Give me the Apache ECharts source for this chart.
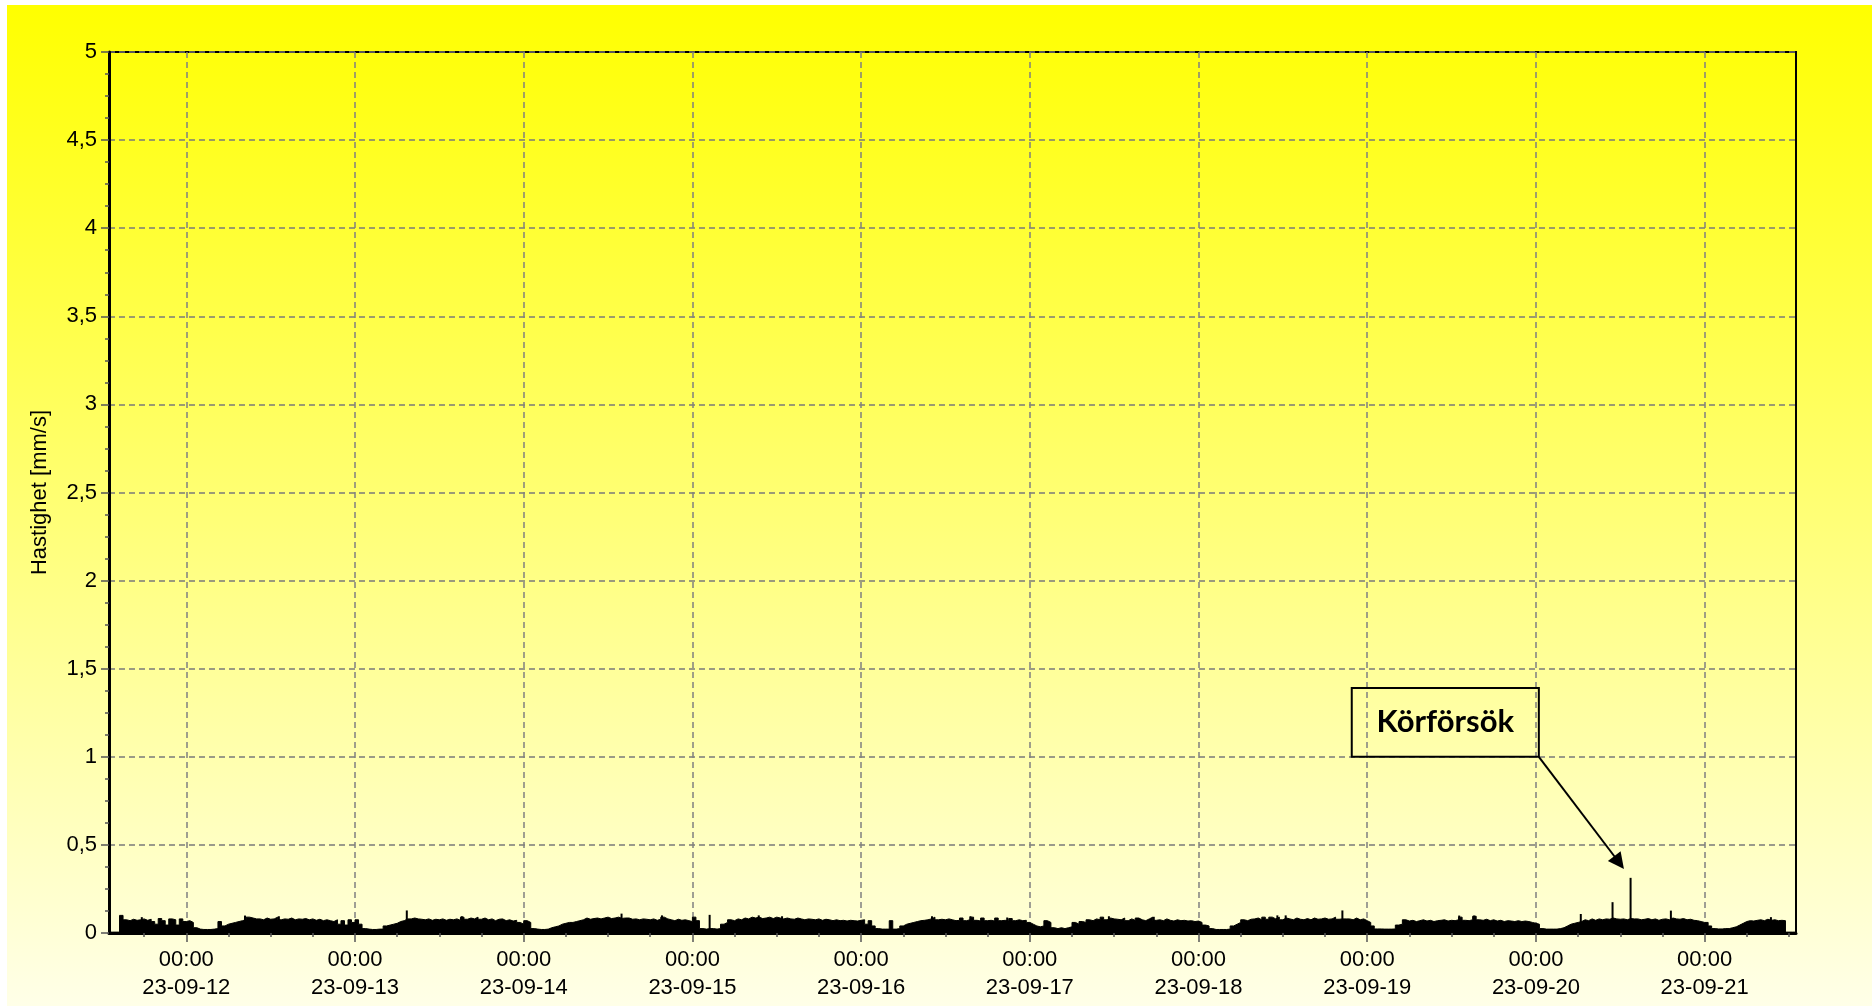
<!DOCTYPE html>
<html>
<head>
<meta charset="utf-8">
<script src="https://cdn.jsdelivr.net/npm/echarts@6/dist/echarts.min.js"></script>
<style>
  html, body { margin: 0; padding: 0; background: #fff; }
  #chart { width: 1872px; height: 1006px; }
</style>
</head>
<body>
<div id="chart"></div>
<script>
// ---- data, half-hour envelope values in mm/s ----
// series starts 2023-09-11 13:00 local time, one value per 30 minutes
const seriesStart = [2023, 9, 11, 13, 0];
const stepMinutes = 30;

const day11 = [0.005,0.005,0.005,0.10,0.075,0.07,0.078,0.072,0.075,0.08,0.072,0.078,0.065,0.05,0.082,0.07,0.045,0.08,0.075,0.045,0.08,0.065];
const day12 = [0.07,0.06,0.03,0.022,0.02,0.02,0.02,0.022,0.025,0.065,0.04,0.05,0.055,0.06,0.065,0.07,0.075,0.09,0.085,0.08,0.08,0.075,0.085,0.078,0.08,0.09,0.075,0.08,0.078,0.085,0.075,0.08,0.078,0.082,0.075,0.08,0.072,0.078,0.07,0.075,0.07,0.065,0.075,0.05,0.07,0.045,0.075,0.06];
const day13 = [0.075,0.05,0.025,0.022,0.02,0.02,0.022,0.022,0.04,0.045,0.05,0.055,0.065,0.07,0.08,0.08,0.085,0.08,0.078,0.075,0.08,0.072,0.078,0.075,0.08,0.072,0.078,0.075,0.08,0.072,0.09,0.078,0.085,0.08,0.09,0.078,0.085,0.075,0.08,0.07,0.078,0.08,0.07,0.075,0.068,0.072,0.06,0.05];
const day14 = [0.07,0.06,0.025,0.022,0.02,0.02,0.022,0.03,0.035,0.04,0.05,0.055,0.06,0.06,0.065,0.07,0.075,0.085,0.078,0.082,0.085,0.08,0.085,0.09,0.082,0.085,0.09,0.083,0.085,0.085,0.078,0.08,0.075,0.08,0.078,0.075,0.08,0.072,0.078,0.09,0.08,0.075,0.07,0.078,0.072,0.075,0.07,0.065];
const day15 = [0.09,0.07,0.025,0.022,0.025,0.025,0.022,0.025,0.05,0.06,0.075,0.07,0.08,0.075,0.085,0.08,0.09,0.085,0.09,0.082,0.085,0.09,0.082,0.09,0.085,0.08,0.085,0.08,0.078,0.085,0.08,0.075,0.08,0.078,0.075,0.08,0.072,0.078,0.075,0.07,0.075,0.07,0.072,0.068,0.072,0.07,0.068,0.072];
const day16 = [0.075,0.05,0.07,0.04,0.025,0.022,0.022,0.022,0.07,0.022,0.025,0.04,0.05,0.055,0.06,0.065,0.07,0.072,0.075,0.08,0.09,0.075,0.078,0.075,0.08,0.075,0.07,0.072,0.085,0.07,0.075,0.09,0.072,0.068,0.085,0.07,0.072,0.068,0.085,0.07,0.072,0.068,0.082,0.07,0.075,0.07,0.072,0.06];
const day17 = [0.05,0.04,0.035,0.04,0.07,0.06,0.03,0.025,0.03,0.025,0.03,0.035,0.06,0.05,0.065,0.06,0.075,0.07,0.08,0.075,0.09,0.075,0.085,0.08,0.078,0.075,0.085,0.07,0.08,0.072,0.085,0.075,0.07,0.08,0.09,0.072,0.075,0.07,0.08,0.072,0.068,0.075,0.07,0.072,0.068,0.07,0.065,0.068];
const day18 = [0.06,0.045,0.04,0.025,0.02,0.02,0.02,0.02,0.022,0.04,0.05,0.06,0.075,0.07,0.078,0.08,0.085,0.075,0.09,0.078,0.09,0.08,0.09,0.075,0.085,0.08,0.075,0.085,0.078,0.075,0.082,0.075,0.085,0.078,0.08,0.085,0.078,0.08,0.09,0.078,0.08,0.08,0.08,0.075,0.085,0.075,0.08,0.07];
const day19 = [0.06,0.04,0.023,0.023,0.022,0.022,0.022,0.023,0.045,0.05,0.075,0.068,0.072,0.065,0.07,0.075,0.068,0.072,0.065,0.07,0.072,0.075,0.068,0.072,0.07,0.075,0.09,0.072,0.07,0.075,0.095,0.075,0.072,0.078,0.07,0.075,0.068,0.072,0.065,0.07,0.068,0.065,0.07,0.065,0.068,0.065,0.06,0.055];
const day20 = [0.05,0.025,0.022,0.022,0.022,0.022,0.025,0.03,0.04,0.05,0.055,0.06,0.065,0.075,0.07,0.08,0.072,0.08,0.075,0.08,0.078,0.085,0.08,0.078,0.08,0.075,0.082,0.08,0.08,0.075,0.078,0.082,0.075,0.08,0.072,0.078,0.08,0.075,0.085,0.08,0.078,0.082,0.075,0.078,0.072,0.07,0.065,0.06];
const day21 = [0.06,0.04,0.025,0.023,0.023,0.025,0.025,0.03,0.035,0.045,0.055,0.065,0.07,0.068,0.072,0.075,0.07,0.078,0.072,0.075,0.07,0.072,0.07,0.005,0.005,0.005,0.005];

// short single peaks: [month, day, hour, minute, value]
const spikes = [
  [9, 11, 17, 40, 0.09],
  [9, 12, 8, 21, 0.099],
  [9, 12, 13, 10, 0.095],
  [9, 13, 7, 22, 0.128],
  [9, 13, 15, 12, 0.095],
  [9, 14, 13, 55, 0.11],
  [9, 14, 19, 40, 0.10],
  [9, 15, 2, 27, 0.103],
  [9, 15, 9, 26, 0.10],
  [9, 15, 12, 45, 0.095],
  [9, 16, 10, 5, 0.095],
  [9, 16, 15, 33, 0.095],
  [9, 16, 20, 47, 0.088],
  [9, 17, 11, 15, 0.095],
  [9, 17, 17, 38, 0.092],
  [9, 18, 11, 13, 0.10],
  [9, 18, 12, 24, 0.10],
  [9, 18, 20, 28, 0.128],
  [9, 19, 13, 5, 0.099],
  [9, 19, 15, 13, 0.099],
  [9, 20, 6, 23, 0.108],
  [9, 20, 10, 54, 0.175],
  [9, 20, 13, 28, 0.313],
  [9, 20, 19, 12, 0.127],
  [9, 21, 9, 26, 0.09]
];

// axis range and tick labels
const axisStart = [2023, 9, 11, 13, 0];
const axisEnd = [2023, 9, 21, 13, 0];
const dayTicks = ['2023-09-12','2023-09-13','2023-09-14','2023-09-15','2023-09-16','2023-09-17','2023-09-18','2023-09-19','2023-09-20','2023-09-21'];
const yTicks = [0, 0.5, 1, 1.5, 2, 2.5, 3, 3.5, 4, 4.5, 5];
const yTitle = 'Hastighet [mm/s]';

// annotation: box corners and arrow, in data coordinates
const noteText = 'Körförsök';
const noteBox = { from: [2023, 9, 18, 21, 48, 1.39], to: [2023, 9, 20, 0, 25, 1.0] };
const noteArrow = { from: [2023, 9, 20, 0, 25, 1.0], to: [2023, 9, 20, 11, 50, 0.40] };

// ---- build ----
function ts(y, mo, d, h, mi) { return new Date(y, mo - 1, d, h || 0, mi || 0).getTime(); }
const values = [].concat(day11, day12, day13, day14, day15, day16, day17, day18, day19, day20, day21);
const t0 = ts.apply(null, seriesStart);
const mainData = values.map((v, i) => [t0 + i * stepMinutes * 60000, v]);
const spikeData = spikes.map(s => [ts(2023, s[0], s[1], s[2], s[3]), s[4]]);
const xMin = ts.apply(null, axisStart);
const xMax = ts.apply(null, axisEnd);
const majorTicks = dayTicks.map(s => { const p = s.split('-').map(Number); return ts(p[0], p[1], p[2]); });
const minorTicks = [];
for (let v = majorTicks[0] - 18 * 3600000; v <= xMax; v += 6 * 3600000) { if (v >= xMin) minorTicks.push(v); }

function pad(n) { return (n < 10 ? '0' : '') + n; }
function fmtX(v) {
  const d = new Date(v);
  return pad(d.getHours()) + ':' + pad(d.getMinutes()) + '\n' +
    pad(d.getFullYear() % 100) + '-' + pad(d.getMonth() + 1) + '-' + pad(d.getDate());
}
function pt(a) { return [ts(a[0], a[1], a[2], a[3], a[4]), a[5]]; }

const FONT = 'Liberation Sans, Arial, sans-serif';
const grid = { left: 109, top: 52, width: 1687, height: 881 };

const chart = echarts.init(document.getElementById('chart'), null, { renderer: 'canvas' });
chart.setOption({
  animation: false,
  backgroundColor: '#ffffff',
  graphic: [{
    type: 'rect', z: -100, silent: true,
    shape: { x: 7, y: 5, width: 1865, height: 1001 },
    style: { fill: new echarts.graphic.LinearGradient(0, 0, 0, 1, [
      { offset: 0, color: '#ffff00' }, { offset: 1, color: '#ffffe8' }]) }
  }],
  grid: Object.assign({ show: true, borderColor: '#000', borderWidth: 2, backgroundColor: 'transparent', containLabel: false }, grid),
  xAxis: [{
    type: 'value', min: xMin, max: xMax, position: 'bottom',
    axisLine: { show: true, onZero: false, lineStyle: { color: '#000', width: 3 } },
    axisTick: { show: true, customValues: majorTicks, length: 9, lineStyle: { color: '#555', width: 1.5 } },
    axisLabel: { show: true, customValues: majorTicks, formatter: fmtX, margin: 13,
      fontFamily: FONT, fontSize: 22, lineHeight: 28, color: '#000' },
    splitLine: { show: true, lineStyle: { color: '#808080', width: 1.5, type: [6, 4] } },
    minorTick: { show: false }
  }, {
    type: 'value', min: xMin, max: xMax, position: 'bottom',
    axisLine: { show: false },
    axisTick: { show: true, customValues: minorTicks, length: 4, lineStyle: { color: '#555', width: 1.5 } },
    axisLabel: { show: false },
    splitLine: { show: false }
  }],
  yAxis: {
    type: 'value', min: yTicks[0], max: yTicks[yTicks.length - 1], interval: yTicks[1] - yTicks[0],
    name: yTitle, nameLocation: 'middle', nameGap: 58, nameRotate: 90,
    nameTextStyle: { fontFamily: FONT, fontSize: 22, color: '#000' },
    axisLine: { show: true, lineStyle: { color: '#000', width: 3 } },
    axisTick: { show: true, length: 8, lineStyle: { color: '#555', width: 1.5 } },
    minorTick: { show: true, splitNumber: 4, length: 4, lineStyle: { color: '#555', width: 1.5 } },
    axisLabel: { margin: 12, fontFamily: FONT, fontSize: 22, color: '#000',
      formatter: v => String(v).replace('.', ',') },
    splitLine: { show: true, lineStyle: { color: '#7a7a7a', width: 1.5, type: [6, 4] } }
  },
  series: [{
    type: 'line', step: 'end', data: mainData, symbol: 'none', z: 3,
    lineStyle: { color: '#000', width: 1 },
    areaStyle: { color: '#000', opacity: 1 },
    markArea: {
      silent: true,
      itemStyle: { color: 'rgba(0,0,0,0)', borderColor: '#000', borderWidth: 2 },
      label: { show: true, position: 'inside', fontFamily: 'Lato, sans-serif', fontWeight: 'bold', fontSize: 31, color: '#000' },
      data: [[{ name: noteText, coord: pt(noteBox.from) }, { coord: pt(noteBox.to) }]]
    },
    markLine: {
      silent: true, symbol: ['none', 'triangle'], symbolSize: 16,
      label: { show: false },
      itemStyle: { color: '#000' },
      lineStyle: { color: '#000', width: 2, type: 'solid' },
      data: [[{ coord: pt(noteArrow.from) }, { coord: pt(noteArrow.to) }]]
    }
  }, {
    type: 'bar', data: spikeData, barWidth: 2, z: 3,
    itemStyle: { color: '#000' }
  }]
});
</script>
</body>
</html>
